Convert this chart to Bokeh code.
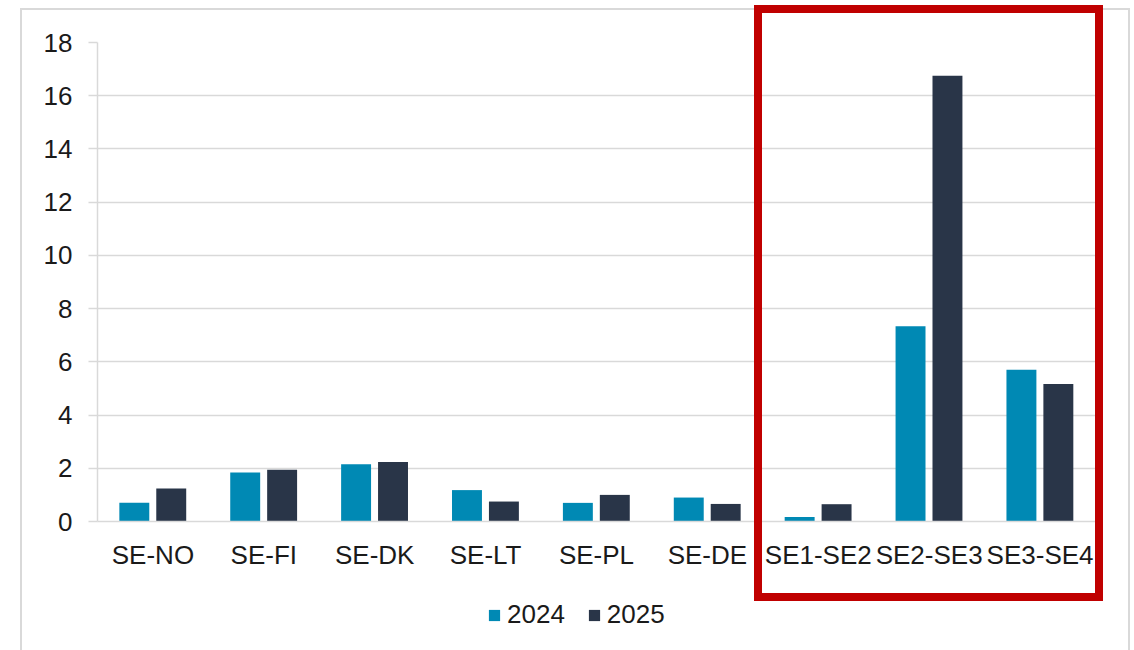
from bokeh.plotting import figure
from bokeh.layouts import column
from bokeh.models import ColumnDataSource, FactorRange, Legend, LegendItem, FixedTicker, InlineStyleSheet, Range1d
from bokeh.transform import dodge
from bokeh.embed import file_html
from bokeh.resources import INLINE

categories = ["SE-NO", "SE-FI", "SE-DK", "SE-LT", "SE-PL", "SE-DE", "SE1-SE2", "SE2-SE3", "SE3-SE4"]
values_2024 = [0.70, 1.84, 2.15, 1.18, 0.70, 0.90, 0.17, 7.34, 5.70]
values_2025 = [1.24, 1.94, 2.24, 0.75, 1.00, 0.66, 0.65, 16.75, 5.17]
series_names = ["2024", "2025"]
y_ticks = [0, 2, 4, 6, 8, 10, 12, 14, 16, 18]

C24 = "#0089B4"
C25 = "#293548"
GRID = "#D9D9D9"
TXT = "#1a1a1a"
FONT = "Liberation Sans"

src = ColumnDataSource(dict(cat=categories, v24=values_2024, v25=values_2025))

p = figure(x_range=FactorRange(*categories, range_padding=0), y_range=(0, 18),
           width=1126, height=580, output_backend="svg", toolbar_location=None,
           min_border_left=97, min_border_right=31, min_border_top=42, min_border_bottom=59)
p.outline_line_color = None
p.background_fill_color = "white"
p.border_fill_color = "white"

r24 = p.vbar(x=dodge("cat", -0.168, range=p.x_range), top="v24", width=0.27, source=src,
             fill_color=C24, line_color=None)
r25 = p.vbar(x=dodge("cat", 0.165, range=p.x_range), top="v25", width=0.27, source=src,
             fill_color=C25, line_color=None)

p.xgrid.grid_line_color = None
p.ygrid.grid_line_color = GRID
p.ygrid.grid_line_width = 1.5
p.yaxis.ticker = FixedTicker(ticks=y_ticks)

p.yaxis.axis_line_color = GRID
p.yaxis.axis_line_width = 1.5
p.yaxis.major_tick_line_color = GRID
p.yaxis.major_tick_line_width = 1.5
p.yaxis.major_tick_out = 9
p.yaxis.major_tick_in = 0
p.yaxis.minor_tick_line_color = None
p.yaxis.major_label_standoff = 16
p.yaxis.major_label_text_font = FONT
p.yaxis.major_label_text_font_size = "26px"
p.yaxis.major_label_text_color = TXT

p.xaxis.axis_line_color = GRID
p.xaxis.axis_line_width = 1.5
p.xaxis.major_tick_line_color = None
p.xaxis.minor_tick_line_color = None
p.xaxis.major_label_standoff = 12
p.xaxis.major_label_text_font = FONT
p.xaxis.major_label_text_font_size = "26px"
p.xaxis.major_label_text_color = TXT

# legend strip below the chart (its frame is aligned with the chart frame by the column)
lf = figure(width=1126, height=70, output_backend="svg", toolbar_location=None,
            x_range=Range1d(0, 1), y_range=Range1d(0, 1),
            min_border_left=0, min_border_right=0, min_border_top=0, min_border_bottom=0)
lf.axis.visible = False
lf.grid.visible = False
lf.outline_line_color = None
lf.border_fill_color = "white"
l24 = lf.vbar(x=[5], top=[5], bottom=[4], width=0.1, fill_color=C24, line_color=None)
l25 = lf.vbar(x=[5], top=[5], bottom=[4], width=0.1, fill_color=C25, line_color=None)
legend = Legend(items=[LegendItem(label=series_names[0], renderers=[l24]),
                       LegendItem(label=series_names[1], renderers=[l25])],
                location=(390, 20), orientation="horizontal", padding=0, margin=0, spacing=22,
                glyph_width=14, glyph_height=14, label_standoff=6,
                label_text_font=FONT, label_text_font_size="26px", label_text_color=TXT,
                border_line_color=None, background_fill_alpha=0)
lf.add_layout(legend)

layout = column(p, lf, spacing=0)
layout.stylesheets = [InlineStyleSheet(css="""
:host { position: relative; overflow: visible; }
:host::before {
  content: ""; position: absolute; left: 20px; top: 8px; width: 1110px; height: 642px;
  box-sizing: border-box; border: 2px solid #D9D9D9; border-bottom: none;
  pointer-events: none; z-index: 5;
}
:host::after {
  content: ""; position: absolute; left: 754px; top: 5px; width: 349px; height: 596px;
  box-sizing: border-box; border: 8px solid #C00000;
  pointer-events: none; z-index: 10;
}
""")]

open("out.html", "w").write(file_html(layout, INLINE))
